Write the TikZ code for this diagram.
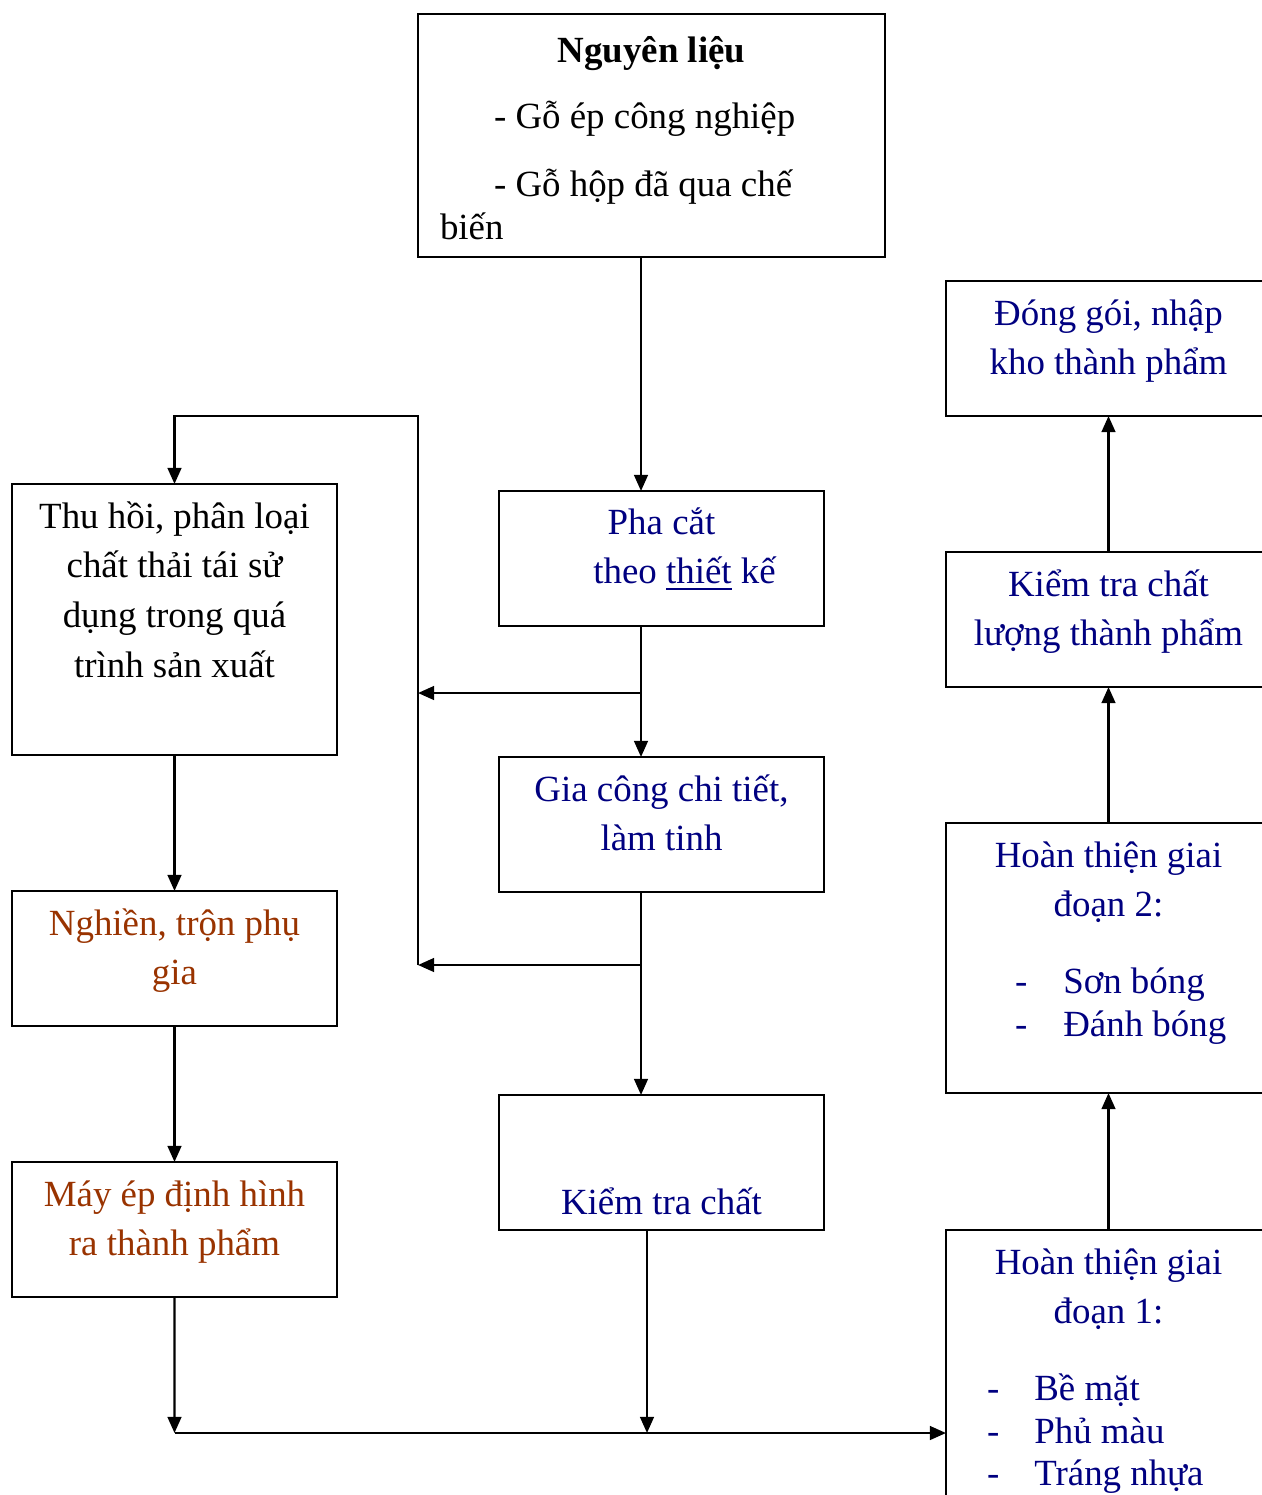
\documentclass[tikz,border=0pt]{standalone}
\usepackage{fontspec}
\setmainfont{Liberation Serif}
\usepackage{tikz}
\usetikzlibrary{arrows.meta}
\definecolor{navy}{RGB}{0,0,128}
\definecolor{rust}{RGB}{153,51,0}
\newcommand{\boxtxt}[3][0.44cm]{\parbox[c][#2][t]{3.25cm}{\lineskiplimit=-4pt\relax\centering\rule{0pt}{#1}#3}}
\newcommand{\dashitem}[3]{\makebox[\linewidth][l]{\hspace*{#1}-\hspace*{#2}#3}}

\begin{document}
\begin{tikzpicture}[line width=0.7pt, every node/.style={font=\fontsize{10.5}{14.2}\selectfont},
	box/.style={draw, inner sep=0pt, outer sep=0pt, minimum width=3.25cm, anchor=north west},
	arr/.style={-{Triangle[length=4.6pt,width=3.9pt]}}]
	\useasboundingbox (0,0) rectangle (12.62,-14.95);
	\clip (0,0) rectangle (12.62,-14.95);
	\node[box, minimum width=4.67cm] (src) at (4.18,-0.14) {\parbox[c][2.43cm][t]{4.67cm}{\lineskiplimit=-4pt\relax\noindent\rule{0pt}{0.48cm}\makebox[\linewidth]{\bfseries Nguyên liệu}\\[4.6pt]
		\hspace*{0.76cm}- Gỗ ép công nghiệp\\[5.4pt]
		\hspace*{0.76cm}- Gỗ hộp đã qua chế\\[-2pt]
		\hspace*{0.22cm}biến}};
	\node[box, text=navy] (cut) at (4.99,-4.91) {\boxtxt[0.43cm]{1.35cm}{Pha cắt\\\hspace*{0.46cm}theo \underline{thiết} kế}};
	\node[box, text=navy] (mach) at (4.99,-7.57) {\boxtxt{1.35cm}{Gia công chi tiết,\\làm tinh}};
	\node[box, text=navy] (check) at (4.99,-10.95) {\boxtxt[1.19cm]{1.35cm}{Kiểm tra chất}};
	\node[box] (recyc) at (0.12,-4.84) {\boxtxt{2.71cm}{Thu hồi, phân loại\\chất thải tái sử\\dụng trong quá\\trình sản xuất}};
	\node[box, text=rust] (grind) at (0.12,-8.91) {\boxtxt{1.35cm}{Nghiền, trộn phụ\\gia}};
	\node[box, text=rust] (press) at (0.12,-11.62) {\boxtxt{1.35cm}{Máy ép định hình\\ra thành phẩm}};
	\node[box, text=navy] (pack) at (9.46,-2.81) {\boxtxt{1.35cm}{Đóng gói, nhập\\kho thành phẩm}};
	\node[box, text=navy] (qc) at (9.46,-5.52) {\boxtxt{1.35cm}{Kiểm tra chất\\lượng thành phẩm}};
	\node[box, text=navy] (fin2) at (9.46,-8.23) {\boxtxt{2.70cm}{Hoàn thiện giai\\đoạn 2:\\[7.7pt]
		\dashitem{0.69cm}{0.36cm}{Sơn bóng}\\[-2pt]
		\dashitem{0.69cm}{0.36cm}{Đánh bóng}}};
	\node[box, text=navy] (fin1) at (9.46,-12.30) {\boxtxt{2.70cm}{Hoàn thiện giai\\đoạn 1:\\[7.7pt]
		\dashitem{0.41cm}{0.35cm}{Bề mặt}\\[-2pt]
		\dashitem{0.41cm}{0.35cm}{Phủ màu}\\[-2.2pt]
		\dashitem{0.41cm}{0.35cm}{Tráng nhựa}}};
	\coordinate (spine) at (6.41,0);
	\coordinate (spine2) at (6.47,0);
	\coordinate (trunktop) at (4.18,-4.16);
	\coordinate (trunkend) at (4.18,-9.65);
	\coordinate (fork1) at (6.41,-6.93);
	\coordinate (fork2) at (6.41,-9.65);
	\coordinate (bus) at (1.745,-14.33);
	\draw[arr] (src.south -| spine) -- (cut.north -| spine);
	\draw[arr] (cut.south -| spine) -- (mach.north -| spine);
	\draw[arr] (fork1) -- (fork1 -| trunktop);
	\draw[arr] (trunkend) -- (trunktop) -| (recyc.north);
	\draw[arr] (mach.south -| spine) -- (check.north -| spine);
	\draw[arr] (fork2) -- (trunkend);
	\draw[arr] (recyc.south) -- (grind.north);
	\draw[arr] (grind.south) -- (press.north);
	\draw[arr] (press.south) -- (bus);
	\draw[arr] (check.south -| spine2) -- (bus -| spine2);
	\draw[arr] (bus) -- (bus -| fin1.west);
	\draw[arr] (fin1.north) -- (fin2.south);
	\draw[arr] (fin2.north) -- (qc.south);
	\draw[arr] (qc.north) -- (pack.south);
\end{tikzpicture}
\end{document}
